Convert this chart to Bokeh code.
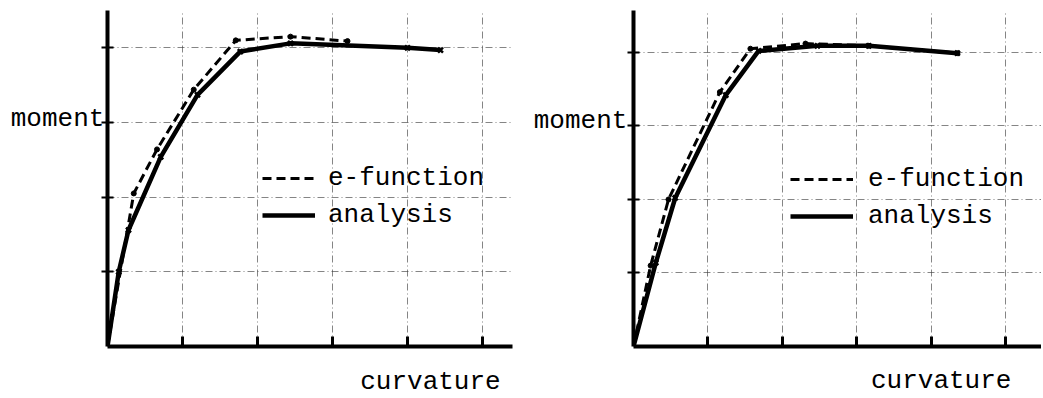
from bokeh.plotting import figure
from bokeh.layouts import row
from bokeh.models import FixedTicker, Label, Legend, LegendItem, Range1d
from bokeh.embed import file_html
from bokeh.resources import INLINE

# ---- data (grid units) ----
left_efunc_x = [0.0, 0.35, 0.66, 1.15, 1.71, 2.44, 3.20]
left_efunc_y = [0.0, 2.05, 2.64, 3.44, 4.10, 4.15, 4.09]
left_anal_x = [0.0, 0.15, 0.28, 0.71, 1.20, 1.77, 2.44, 4.00, 4.44]
left_anal_y = [0.0, 1.00, 1.56, 2.54, 3.37, 3.95, 4.06, 4.00, 3.97]

right_efunc_x = [0.0, 0.23, 0.47, 1.16, 1.57, 2.31, 3.16, 4.35]
right_efunc_y = [0.0, 1.10, 2.00, 3.46, 4.05, 4.12, 4.09, 3.99]
right_anal_x = [0.0, 0.30, 0.56, 1.24, 1.68, 2.47, 3.16, 4.35]
right_anal_y = [0.0, 1.14, 2.02, 3.42, 4.02, 4.09, 4.09, 3.99]

x_ticks = [1, 2, 3, 4, 5]
y_ticks = [1, 2, 3, 4]

x_label = "curvature"
y_label = "moment"
legend_labels = ["e-function", "analysis"]

FONT = "Liberation Mono"
FSIZE = "26px"


def make_panel(ex, ey, ax, ay, width, border_left, border_right, border_bottom,
               x_end, y_end, ylab_pos, xlab_pos, legend_loc, glyph_w, standoff):
    p = figure(width=width, height=398, output_backend="svg", toolbar_location=None,
               x_range=Range1d(0, x_end), y_range=Range1d(0, y_end),
               min_border_left=border_left, min_border_right=border_right,
               min_border_top=10, min_border_bottom=border_bottom)
    p.outline_line_color = None
    p.background_fill_color = "white"
    p.border_fill_color = "white"

    for axis in (p.xaxis[0], p.yaxis[0]):
        axis.axis_line_width = 4
        axis.axis_line_color = "black"
        axis.major_label_text_font_size = "1px"
        axis.major_label_text_color = None
        axis.major_label_standoff = 0
        axis.minor_tick_line_color = None
        axis.major_tick_line_color = "black"
    p.xaxis[0].ticker = FixedTicker(ticks=x_ticks)
    p.yaxis[0].ticker = FixedTicker(ticks=y_ticks)
    p.xaxis[0].major_tick_in = 10
    p.xaxis[0].major_tick_out = 0
    p.xaxis[0].major_tick_line_width = 3
    p.yaxis[0].major_tick_in = 6
    p.yaxis[0].major_tick_out = 6
    p.yaxis[0].major_tick_line_width = 2

    p.xgrid.ticker = FixedTicker(ticks=x_ticks)
    p.ygrid.ticker = FixedTicker(ticks=y_ticks)
    for g in (p.xgrid[0], p.ygrid[0]):
        g.grid_line_color = "#444444"
        g.grid_line_alpha = 0.65
        g.grid_line_width = 1
        g.grid_line_dash = "7 3 1 3"

    r_e = p.line(ex, ey, line_color="black", line_width=3, line_dash="9 5")
    p.scatter(ex[1:], ey[1:], marker="circle", size=5, color="black")
    r_a = p.line(ax, ay, line_color="black", line_width=4.5)
    p.scatter(ax[1:], ay[1:], marker="x", size=7, line_width=2.5, color="black")

    legend = Legend(items=[LegendItem(label=legend_labels[0], renderers=[r_e]),
                           LegendItem(label=legend_labels[1], renderers=[r_a])],
                    location=legend_loc, padding=0, margin=0, spacing=7,
                    glyph_width=glyph_w, glyph_height=28, label_height=28,
                    label_standoff=standoff,
                    label_text_font=FONT, label_text_font_size=FSIZE,
                    label_text_color="black",
                    border_line_color=None, background_fill_alpha=0)
    p.add_layout(legend, "center")

    p.add_layout(Label(x=ylab_pos[0], y=ylab_pos[1], text=y_label, text_font=FONT,
                       text_font_size=FSIZE, text_align="left", text_baseline="alphabetic",
                       text_color="black"), "left")
    p.add_layout(Label(x=xlab_pos[0], y=xlab_pos[1], text=x_label, text_font=FONT,
                       text_font_size=FSIZE, text_align="left", text_baseline="alphabetic",
                       text_color="black"), "below")
    return p


p1 = make_panel(left_efunc_x, left_efunc_y, left_anal_x, left_anal_y,
                width=520, border_left=107, border_right=8, border_bottom=52,
                x_end=5.4, y_end=4.5,
                ylab_pos=(-1.29, 3.05), xlab_pos=(3.37, -0.48),
                legend_loc=(155, 116), glyph_w=53, standoff=13)
p2 = make_panel(right_efunc_x, right_efunc_y, right_anal_x, right_anal_y,
                width=521, border_left=113, border_right=0, border_bottom=50,
                x_end=5.48, y_end=4.57,
                ylab_pos=(-1.34, 3.07), xlab_pos=(3.19, -0.47),
                legend_loc=(157, 115), glyph_w=63, standoff=15)

layout = row(p1, p2)
open("out.html", "w").write(file_html(layout, INLINE))
